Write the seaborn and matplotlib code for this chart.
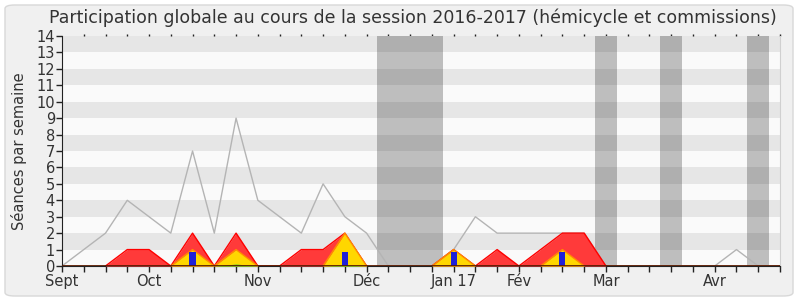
import numpy as np
import pandas as pd
import matplotlib
matplotlib.use("Agg")
import matplotlib.pyplot as plt
from matplotlib.patches import FancyBboxPatch
import seaborn as sns

# ---- data ----
weeks = list(range(34))
total = [0, 1, 2, 4, 3, 2, 7, 2, 9, 4, 3, 2, 5, 3, 2, 0, 0, 0, 1, 3, 2, 2, 2, 2, 2,
         0, 0, 0, 0, 0, 0, 1, 0, 0]
commission = [0, 0, 0, 1, 1, 0, 2, 0, 2, 0, 0, 1, 1, 2, 0, 0, 0, 0, 1, 0, 1, 0, 1, 2, 2,
              0, 0, 0, 0, 0, 0, 0, 0, 0]
hemicycle = [0, 0, 0, 0, 0, 0, 1, 0, 1, 0, 0, 0, 0, 2, 0, 0, 0, 0, 1, 0, 0, 0, 0, 1, 0,
             0, 0, 0, 0, 0, 0, 0, 0, 0]
interventions = [0, 0, 0, 0, 0, 0, 0, 0, 0.12, 0, 0, 0, 0, 0.06, 0, 0, 0, 0, 0, 0, 0, 0, 0, 0, 0,
                 0, 0, 0, 0, 0, 0, 0, 0, 0]
questions = [0, 0, 0, 0, 0, 0, 0.85, 0, 0, 0, 0, 0, 0, 0.85, 0, 0, 0, 0, 0.85, 0, 0, 0, 0, 0.85, 0,
             0, 0, 0, 0, 0, 0, 0, 0, 0]
vacances = [(14.5, 17.5), (24.5, 25.5), (27.5, 28.5), (31.5, 32.5)]
month_pos = [0, 4, 9, 14, 18, 21, 25, 30]
month_labels = ["Sept", "Oct", "Nov", "Déc", "Jan 17", "Fév", "Mar", "Avr"]
title = "Participation globale au cours de la session 2016-2017 (hémicycle et commissions)"
ylabel = "Séances par semaine"

df = pd.DataFrame({"semaine": weeks, "total": total})

sns.set_style("white")
plt.rcParams["font.family"] = ["DejaVu Sans"]

fig = plt.figure(figsize=(8, 3), dpi=100)
fig.patch.set_facecolor("white")
frame = FancyBboxPatch((5 / 800, 4 / 300), 788 / 800, 291 / 300,
                       boxstyle="round,pad=0,rounding_size=0.012",
                       transform=fig.transFigure, facecolor="#F0F0F0",
                       edgecolor="#D8D8D8", linewidth=1.0, zorder=-10)
fig.patches.append(frame)

ax = fig.add_axes([62 / 800, 34 / 300, 718 / 800, 230 / 300])
ax.set_zorder(5)
ax.set_facecolor("#FAFAFA")
ax.set_xlim(0, 33)
ax.set_ylim(0, 14)

# vacation bands
for a, b in vacances:
    ax.axvspan(a, b, color="#BEBEBE", zorder=1, lw=0)
# horizontal stripes (semi-transparent so they darken bands too)
for k in range(1, 14, 2):
    ax.axhspan(k, k + 1, color="black", alpha=0.08, lw=0, zorder=1.5)

# total line
sns.lineplot(data=df, x="semaine", y="total", ax=ax, color="#B4B4B4", lw=1, zorder=2)

x = np.array(weeks)


def outline(vals):
    v = np.asarray(vals, dtype=float)
    nb = np.zeros(len(v), dtype=bool)
    nb[1:] |= v[:-1] > 0
    nb[:-1] |= v[1:] > 0
    keep = (v > 0) | nb
    return np.ma.masked_where(~keep, v)


ax.fill_between(x, commission, 0, facecolor="#FF3A3A", lw=0, zorder=3)
ax.plot(x, outline(commission), color="#FF0000", lw=1, zorder=3.1)
ax.fill_between(x, hemicycle, 0, facecolor="#FFD700", lw=0, zorder=4)
ax.plot(x, outline(hemicycle), color="#FF8C00", lw=1, zorder=4.1)
ax.fill_between(x, interventions, 0, facecolor="#33CC33", lw=0, zorder=5)
ax.bar(x, questions, width=0.28, color="#2020D8", lw=0, zorder=6)
ax.axhline(0, color="#5A1A00", lw=2.0, zorder=8)

# axes styling
ax.spines["top"].set_visible(False)
ax.spines["right"].set_color("#D0D0D0")
ax.spines["left"].set_color("#222222")
ax.spines["bottom"].set_color("#222222")

ax.set_yticks(range(0, 15))
ax.set_xticks(weeks, minor=True)
ax.set_xticks(month_pos)
ax.set_xticklabels(month_labels)
ax.tick_params(axis="x", which="both", bottom=True, top=False, direction="out", length=4,
               width=1, color="#222222", labelsize=10.5, labelcolor="#333333", pad=1.5)
ax.tick_params(axis="y", left=True, direction="out", length=4, width=1, color="#222222",
               labelsize=10.5, labelcolor="#333333", pad=1)

# tiny tick dots above the plot
sec = ax.secondary_xaxis("top")
sec.set_xticks(weeks[1:])
sec.tick_params(axis="x", direction="out", length=1.2, width=1, color="#222222",
                labeltop=False, top=True)
sec.spines["top"].set_visible(False)

ax.set_xlabel("")
ax.set_ylabel(ylabel, fontsize=10.5, color="#333333", labelpad=7)
fig.text(413 / 800, 1 - 18 / 300, title, ha="center", va="center", fontsize=12.5, color="#333333")

fig.savefig("out.png", dpi=100)
